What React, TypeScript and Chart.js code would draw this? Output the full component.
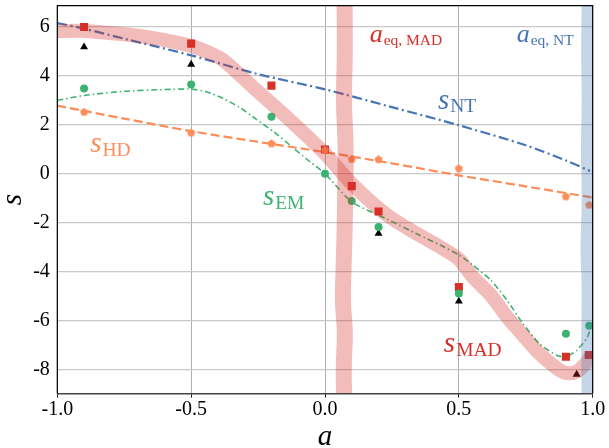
import { useEffect, useRef } from "react";
import { Chart, registerables } from "chart.js";

Chart.register(...registerables);

// ---- axis ticks ----
const xTicks = [-1, -0.5, 0, 0.5, 1];
const yTicks = [-8, -6, -4, -2, 0, 2, 4, 6];

// ---- measured points ----
const aMadPts = [-0.9, -0.5, -0.2, 0.0, 0.1, 0.2, 0.5, 0.9, 0.985];
const sMadPts = [6.0, 5.32, 3.6, 0.99, -0.51, -1.55, -4.64, -7.49, -7.42];

const aEmPts = [-0.9, -0.5, -0.2, 0.0, 0.1, 0.2, 0.5, 0.9, 0.987];
const sEmPts = [3.48, 3.65, 2.33, 0.0, -1.12, -2.18, -4.9, -6.55, -6.22];

const aHdPts = [-0.9, -0.5, -0.2, 0.0, 0.1, 0.2, 0.5, 0.9, 0.987];
const sHdPts = [2.54, 1.69, 1.25, 0.99, 0.61, 0.6, 0.23, -0.92, -1.26];

const aTriPts = [-0.9, -0.5, 0.2, 0.5, 0.94];
const sTriPts = [5.18, 4.47, -2.45, -5.22, -8.21];

// ---- model curves ----
const aNT = [-1, -0.9, -0.75, -0.5, -0.25, 0, 0.25, 0.5, 0.75, 0.9, 0.99];
const sNT = [6.16, 5.93, 5.52, 4.84, 4.07, 3.45, 2.72, 1.98, 1.16, 0.54, 0.11];

const aHD = [-1, -0.75, -0.5, -0.25, 0, 0.25, 0.5, 0.75, 1.0];
const sHD = [2.78, 2.25, 1.74, 1.3, 0.88, 0.42, -0.07, -0.52, -0.98];

const aEM = [-1, -0.9, -0.75, -0.6, -0.5, -0.44, -0.38, -0.32, -0.26, -0.19, -0.13, -0.07, 0, 0.1, 0.23, 0.35, 0.43, 0.5, 0.55, 0.62, 0.68, 0.74, 0.8, 0.865, 0.9, 0.94, 0.977, 0.99];
const sEM = [3.0, 3.2, 3.37, 3.44, 3.46, 3.34, 3.07, 2.72, 2.25, 1.7, 1.16, 0.61, 0.0, -1.16, -1.85, -2.5, -2.92, -3.32, -3.72, -4.36, -5.18, -6.14, -6.95, -7.43, -7.5, -7.23, -6.75, -6.41];

const aMAD = [-1, -0.9, -0.75, -0.63, -0.5, -0.44, -0.38, -0.26, -0.13, 0, 0.1, 0.23, 0.35, 0.43, 0.5, 0.55, 0.62, 0.68, 0.74, 0.8, 0.865, 0.9, 0.94, 0.977, 0.99];
const sMAD = [5.82, 5.84, 5.7, 5.52, 5.22, 4.98, 4.64, 3.45, 2.18, 0.82, -0.41, -1.68, -2.5, -3.0, -3.5, -4.2, -4.98, -5.86, -6.61, -7.35, -7.95, -8.15, -8.1, -7.72, -7.5];

// vertical equilibrium bands
const sEqMad = [7.3, 5, 3, 1, -1, -2.5, -4, -5.2, -6.5, -8, -9.3];
const aEqMad = [0.073, 0.074, 0.071, 0.077, 0.075, 0.073, 0.069, 0.067, 0.074, 0.07, 0.072];
const sEqNT = [7.3, 5, 3, 1, -1, -3, -5, -7, -9.3];
const aEqNT = [1.0, 0.998, 1.0, 0.997, 1.0, 0.996, 1.0, 0.998, 1.0];

const RED = "#d73027";
const BLUE = "#4575b4";
const ORANGE = "#fc8d59";
const GREEN = "#3cb371";

const FONT = "'Liberation Serif', 'DejaVu Serif', serif";

type Label = { a: number; s: number; main: string; sub: string; color: string; mainSize: number; subSize: number; dy: number };
const labels: Label[] = [
  { a: 0.422, s: 2.66, main: "s", sub: "NT", color: BLUE, mainSize: 29, subSize: 19.5, dy: 3.4 },
  { a: -0.877, s: 0.88, main: "s", sub: "HD", color: ORANGE, mainSize: 29, subSize: 19.5, dy: 3.4 },
  { a: -0.232, s: -1.3, main: "s", sub: "EM", color: GREEN, mainSize: 29, subSize: 19.5, dy: 3.4 },
  { a: 0.444, s: -7.3, main: "s", sub: "MAD", color: RED, mainSize: 29, subSize: 19.5, dy: 3.6 },
  { a: 0.167, s: 5.38, main: "a", sub: "eq, MAD", color: RED, mainSize: 26, subSize: 15.5, dy: 3.3 },
  { a: 0.716, s: 5.38, main: "a", sub: "eq, NT", color: BLUE, mainSize: 26, subSize: 15.5, dy: 3.3 },
];

const xy = (xs: number[], ys: number[]) => xs.map((x, i) => ({ x, y: ys[i] }));

function makePentagon(color: string, r: number) {
  const c = document.createElement("canvas");
  const size = Math.ceil(r * 2 + 2);
  c.width = size;
  c.height = size;
  const g = c.getContext("2d")!;
  g.fillStyle = color;
  g.beginPath();
  for (let i = 0; i < 5; i++) {
    const ang = -Math.PI / 2 + (i * 2 * Math.PI) / 5;
    const px = size / 2 + r * Math.cos(ang);
    const py = size / 2 + 0.6 + r * Math.sin(ang);
    if (i === 0) g.moveTo(px, py);
    else g.lineTo(px, py);
  }
  g.closePath();
  g.fill();
  return c;
}

const framePlugin = {
  id: "frameAndText",
  afterDatasetsDraw(chart: any) {
    const { ctx, chartArea } = chart;
    const { left, right, top, bottom } = chartArea;
    const xs = chart.scales.x;
    const ys = chart.scales.y;
    ctx.save();
    ctx.lineWidth = 1.2;
    ctx.strokeStyle = "#000";
    ctx.beginPath();
    ctx.moveTo(left, bottom);
    ctx.lineTo(left, top);
    ctx.lineTo(right, top);
    ctx.lineTo(right, bottom);
    ctx.stroke();
    ctx.strokeStyle = "#444";
    ctx.lineWidth = 1.5;
    ctx.beginPath();
    ctx.moveTo(left, bottom);
    ctx.lineTo(right, bottom);
    ctx.stroke();

    // annotation labels
    ctx.textBaseline = "alphabetic";
    ctx.textAlign = "left";
    for (const l of labels) {
      const px = xs.getPixelForValue(l.a);
      const py = ys.getPixelForValue(l.s);
      ctx.fillStyle = l.color;
      ctx.font = `italic ${l.mainSize}px ${FONT}`;
      ctx.fillText(l.main, px, py);
      const w = ctx.measureText(l.main).width;
      ctx.font = `${l.subSize}px ${FONT}`;
      ctx.fillText(l.sub, px + w + 1, py + l.dy);
    }

    // axis titles
    ctx.fillStyle = "#000";
    ctx.font = `italic 29px ${FONT}`;
    ctx.textAlign = "center";
    ctx.fillText("a", (left + right) / 2, 445);
    ctx.translate(21, (top + bottom) / 2);
    ctx.rotate(-Math.PI / 2);
    ctx.fillText("s", 0, 0);
    ctx.restore();
  },
};

export default function App() {
  const ref = useRef<HTMLCanvasElement>(null);
  useEffect(() => {
    document.body.style.margin = "0";
    const canvas = ref.current!;
    const pentagon = makePentagon(ORANGE, 4.3);
    const chart = new Chart(canvas, {
      type: "scatter",
      data: {
        datasets: [
          {
            label: "a_eq,MAD",
            data: xy(aEqMad, sEqMad),
            showLine: true,
            borderColor: "rgba(215,48,39,0.32)",
            borderWidth: 16,
            pointRadius: 0,
            tension: 0.4,
            clip: 0,
            order: 1,
          },
          {
            label: "a_eq,NT",
            data: xy(aEqNT, sEqNT),
            showLine: true,
            borderColor: "rgba(69,117,180,0.3)",
            borderWidth: 22,
            pointRadius: 0,
            tension: 0.4,
            clip: 0,
            order: 1,
          },
          {
            label: "s_MAD",
            data: xy(aMAD, sMAD),
            showLine: true,
            borderColor: "rgba(215,48,39,0.32)",
            borderWidth: 14,
            borderJoinStyle: "round",
            pointRadius: 0,
            tension: 0.3,
            clip: 0,
            order: 2,
          },
          {
            label: "HD pts",
            data: xy(aHdPts, sHdPts),
            pointStyle: pentagon,
            pointRadius: 4.3,
            order: 3,
          },
          {
            label: "EM pts",
            data: xy(aEmPts, sEmPts),
            pointStyle: "circle",
            pointRadius: 4,
            backgroundColor: GREEN,
            borderWidth: 0,
            order: 4,
          },
          {
            label: "MAD pts",
            data: xy(aMadPts, sMadPts),
            pointStyle: "rect",
            pointRadius: 5.7,
            backgroundColor: RED,
            borderWidth: 0,
            order: 5,
          },
          {
            label: "tri pts",
            data: xy(aTriPts, sTriPts),
            pointStyle: "triangle",
            pointRadius: 4.6,
            backgroundColor: "#000",
            borderWidth: 0,
            order: 6,
          },
          {
            label: "s_NT",
            data: xy(aNT, sNT),
            showLine: true,
            borderColor: BLUE,
            borderWidth: 2.2,
            borderDash: [10, 3.5, 2, 3.5],
            pointRadius: 0,
            tension: 0.3,
            order: 7,
          },
          {
            label: "s_HD",
            data: xy(aHD, sHD),
            showLine: true,
            borderColor: ORANGE,
            borderWidth: 2.2,
            borderDash: [9, 4],
            pointRadius: 0,
            tension: 0.3,
            order: 8,
          },
          {
            label: "s_EM",
            data: xy(aEM, sEM),
            showLine: true,
            borderColor: GREEN,
            borderWidth: 1.6,
            borderDash: [6, 3, 1.5, 3],
            pointRadius: 0,
            tension: 0.2,
            order: 9,
          },
        ],
      },
      options: {
        animation: false,
        responsive: false,
        events: [],
        layout: { padding: { top: 5.3, right: 16.3, left: 0, bottom: 0 } },
        plugins: { legend: { display: false }, tooltip: { enabled: false } },
        scales: {
          x: {
            type: "linear",
            min: -1,
            max: 1,
            afterBuildTicks: (s: any) => {
              s.ticks = xTicks.map((v) => ({ value: v }));
            },
            afterFit: (s: any) => {
              s.height = 54.3;
              s.paddingLeft = 0;
              s.paddingRight = 0;
            },
            grid: { color: "#b0b0b0", lineWidth: 1, drawTicks: true, tickLength: 4, tickColor: "#222" },
            border: { display: false },
            ticks: {
              color: "#000",
              padding: 0,
              font: { family: FONT, size: 20 },
              callback: (v: any) => Number(v).toFixed(1),
              maxRotation: 0,
            },
          },
          y: {
            type: "linear",
            min: -9,
            max: 6.87,
            afterBuildTicks: (s: any) => {
              s.ticks = yTicks.map((v) => ({ value: v }));
            },
            afterFit: (s: any) => {
              s.width = 57.3;
              s.paddingTop = 0;
              s.paddingBottom = 0;
            },
            grid: { color: "#c8c8c8", lineWidth: 1.3, drawTicks: false },
            border: { display: false },
            ticks: {
              color: "#000",
              padding: 7.5,
              font: { family: FONT, size: 20 },
              callback: (v: any) => String(v),
            },
          },
        },
      },
      plugins: [framePlugin],
    } as any);
    return () => chart.destroy();
  }, []);
  return (
    <div style={{ width: 609, height: 448 }}>
      <canvas ref={ref} width={609} height={448} style={{ display: "block" }} />
    </div>
  );
}
